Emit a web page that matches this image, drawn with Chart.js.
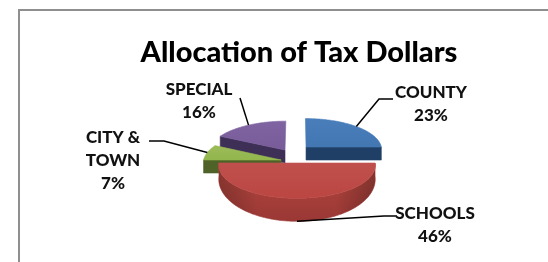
<!DOCTYPE html>
<html>
<head>
<meta charset="utf-8">
<script src="https://cdn.jsdelivr.net/npm/chart.js@4.4.1/dist/chart.umd.min.js"></script>
<style>
  html, body { margin: 0; padding: 0; background: #fff; }
  #wrap { position: relative; width: 548px; height: 262px; overflow: hidden; }
  #frame { position: absolute; left: 18px; top: 9px; width: 700px; height: 400px; border-top: 2px solid #8f8f8f; border-left: 2px solid #8f8f8f; }
  canvas { position: absolute; left: 0; top: 0; }
</style>
</head>
<body>
<div id="wrap">
  <div id="frame"></div>
  <canvas id="chart" width="548" height="262"></canvas>
</div>
<script>
// Data
const categories = [['COUNTY'], ['SCHOOLS'], ['CITY &', 'TOWN'], ['SPECIAL']]
const shares = [23, 46, 7, 16]

// Colours: top face, cut faces, outer wall (top / bottom)
const topColors = ['#4a7ebb', '#c0504d', '#9bbb59', '#8064a2']
const faceColors = ['#203f66', '#8f3431', '#4f6228', '#3e2f56']
const wallTop = ['#3b6597', '#b4473f', '#6f8a3c', '#5f4a7c']
const wallBottom = ['#2b4b72', '#9a3835', '#556b2c', '#46375e']

// Tilted view of the pie plane (u across, w towards the viewer)
const view = { cx: 297, cy: 155, kx: 0.7666, ky: 0.316, far: 1400, radius: 100 }
// how far each slice is pulled out, in pie-plane units
const explode = [[12, -25.7], [0, 24.9], [-20.5, 15.6], [-15.8, -16]]
// label centre, first baseline, leader elbow points
const labelSpots = [
  { x: 431, y: 98, line: [[379, 99], [393, 99]] },
  { x: 435, y: 219, line: [[384, 216], [397, 216]] },
  { x: 113, y: 143, line: [[164, 141], [149, 141]] },
  { x: 199, y: 95, line: [[240, 98]] }
]

function project (u, w) {
  const t = view.far / (view.far - w)
  return [view.cx + view.kx * u * t, view.cy + view.ky * w * t]
}

// Excel draws the front wall a bit deeper than the back
function wallDepth (w) {
  return 13 + Math.max(0, w - 25) * 0.1
}

function rimPoint (i, a, bottom) {
  const u = explode[i][0] + view.radius * Math.cos(a)
  const w = explode[i][1] + view.radius * Math.sin(a)
  const p = project(u, w)
  if (bottom) p[1] += wallDepth(w)
  return p
}

function centrePoint (i, bottom) {
  const p = project(explode[i][0], explode[i][1])
  if (bottom) p[1] += wallDepth(explode[i][1])
  return p
}

function shape (ctx, pts) {
  ctx.beginPath()
  pts.forEach((p, k) => k ? ctx.lineTo(p[0], p[1]) : ctx.moveTo(p[0], p[1]))
  ctx.closePath()
}

function quad (ctx, pts, fill) {
  shape(ctx, pts)
  ctx.fillStyle = fill
  ctx.fill()
  ctx.strokeStyle = fill
  ctx.lineWidth = 0.6
  ctx.stroke()
}

function drawSlice (ctx, i, arc) {
  const s = arc.startAngle
  const e = arc.endAngle
  const c0 = centrePoint(i, false)
  const c1 = centrePoint(i, true)

  // cut faces that look towards us
  if (-Math.cos(s) > 0.01) {
    quad(ctx, [c0, rimPoint(i, s, false), rimPoint(i, s, true), c1], faceColors[i])
  }
  if (Math.cos(e) > 0.01) {
    quad(ctx, [c0, rimPoint(i, e, false), rimPoint(i, e, true), c1], faceColors[i])
  }

  // outer wall, front half only
  const a0 = Math.max(s, 0)
  const a1 = Math.min(e, Math.PI)
  if (a1 > a0) {
    const steps = Math.ceil((a1 - a0) / 0.02)
    const top = []
    const bot = []
    for (let k = 0; k <= steps; k++) {
      const a = a0 + (a1 - a0) * k / steps
      top.push(rimPoint(i, a, false))
      bot.push(rimPoint(i, a, true))
    }
    const pts = top.concat(bot.reverse())
    const ys = pts.map(p => p[1])
    const g = ctx.createLinearGradient(0, Math.min(...ys), 0, Math.max(...ys))
    g.addColorStop(0, wallTop[i])
    g.addColorStop(1, wallBottom[i])
    quad(ctx, pts, g)
    // darker towards the sides
    const xs = pts.map(p => p[0])
    const h = ctx.createLinearGradient(Math.min(...xs), 0, Math.max(...xs), 0)
    h.addColorStop(0, 'rgba(0,0,0,0.22)')
    h.addColorStop(0.25, 'rgba(0,0,0,0)')
    h.addColorStop(0.75, 'rgba(0,0,0,0)')
    h.addColorStop(1, 'rgba(0,0,0,0.25)')
    shape(ctx, pts)
    ctx.fillStyle = h
    ctx.fill()
  }

  // top face
  const steps = Math.ceil((e - s) / 0.02)
  const face = [c0]
  for (let k = 0; k <= steps; k++) face.push(rimPoint(i, s + (e - s) * k / steps, false))
  const ys = face.map(p => p[1])
  const g = ctx.createLinearGradient(0, Math.min(...ys), 0, Math.max(...ys))
  g.addColorStop(0, topColors[i])
  g.addColorStop(1, Chart.helpers.color(topColors[i]).darken(0.06).hexString())
  quad(ctx, face, g)
}

const pie3d = {
  id: 'pie3d',
  beforeDatasetsDraw (chart) {
    const ctx = chart.ctx
    const arcs = chart.getDatasetMeta(0).data
    const order = arcs.map((a, i) => i).sort((a, b) => explode[a][1] - explode[b][1])
    ctx.save()
    order.forEach(i => drawSlice(ctx, i, arcs[i]))
    ctx.restore()
    return false
  },
  afterDraw (chart) {
    const ctx = chart.ctx
    const arcs = chart.getDatasetMeta(0).data
    ctx.save()
    ctx.strokeStyle = '#000'
    ctx.lineWidth = 1.5
    arcs.forEach((arc, i) => {
      const mid = (arc.startAngle + arc.endAngle) / 2
      const start = rimPoint(i, mid, Math.sin(mid) > 0)
      ctx.beginPath()
      ctx.moveTo(start[0], start[1])
      labelSpots[i].line.forEach(p => ctx.lineTo(p[0], p[1]))
      ctx.stroke()
    })
    ctx.fillStyle = '#111'
    ctx.font = '900 17px Lato'
    ctx.textAlign = 'center'
    ctx.textBaseline = 'alphabetic'
    arcs.forEach((arc, i) => {
      const spot = labelSpots[i]
      const lines = categories[i].concat([shares[i] + '%'])
      lines.forEach((txt, k) => ctx.fillText(txt, spot.x, spot.y + k * 23))
    })
    ctx.restore()
  }
}

Chart.defaults.font.family = 'Lato'

new Chart(document.getElementById('chart'), {
  type: 'pie',
  data: {
    labels: categories.map(c => c.join(' ')),
    datasets: [{
      data: shares,
      backgroundColor: topColors
    }]
  },
  options: {
    responsive: false,
    animation: false,
    devicePixelRatio: 1,
    layout: { padding: { left: 50 } },
    plugins: {
      legend: { display: false },
      tooltip: { enabled: false },
      title: {
        display: true,
        text: 'Allocation of Tax Dollars',
        color: '#000',
        font: { size: 29, weight: '900', family: 'Lato' },
        padding: { top: 35, bottom: 10 }
      }
    }
  },
  plugins: [pie3d]
})
</script>
</body>
</html>
